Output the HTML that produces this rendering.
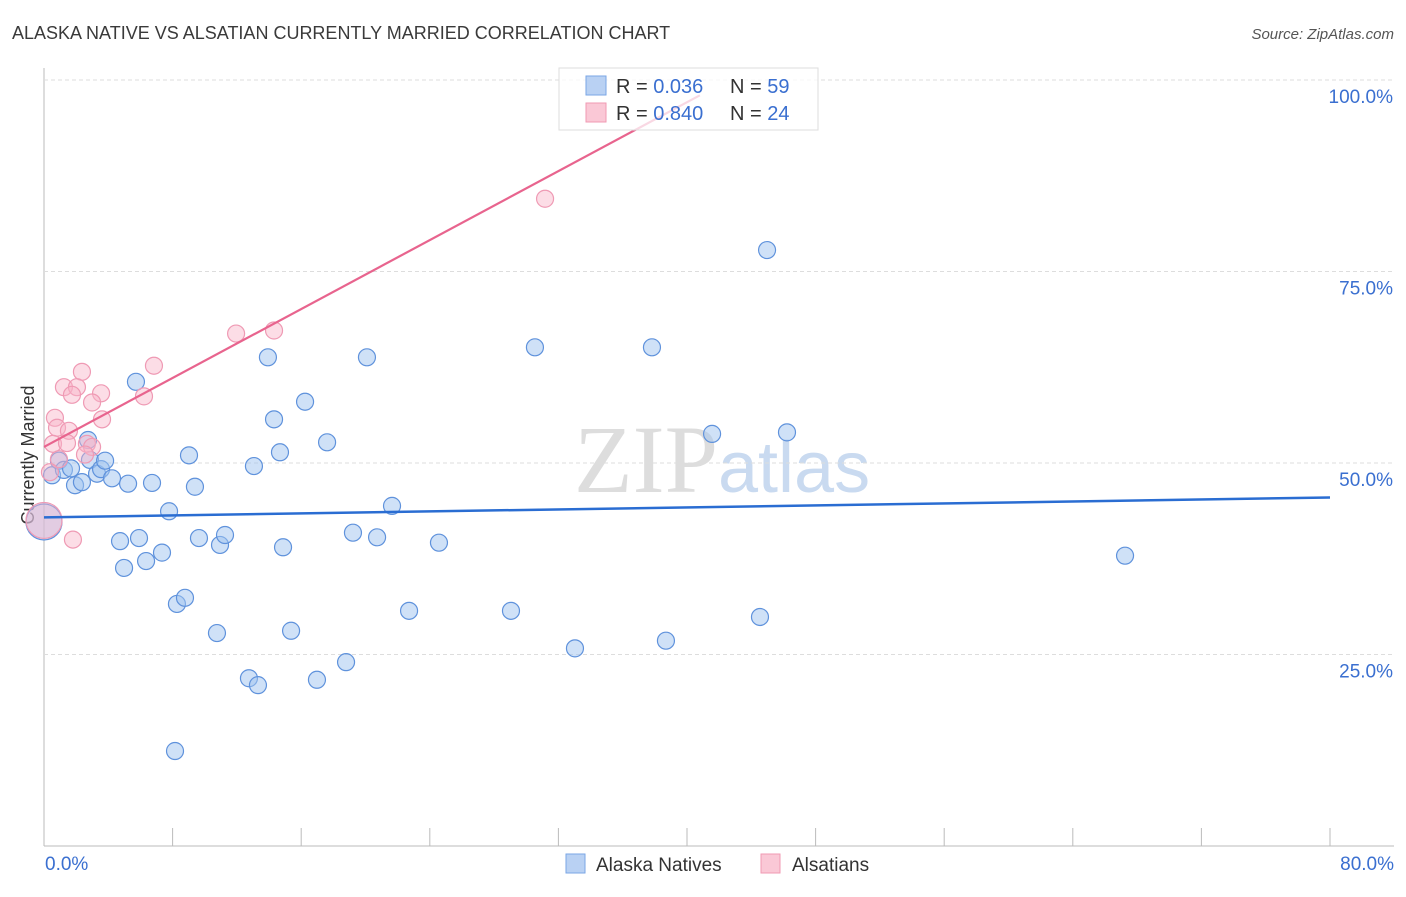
<!DOCTYPE html>
<html><head><meta charset="utf-8"><style>
body{margin:0;background:#fff;font-family:"Liberation Sans",sans-serif;}
#c{position:relative;width:1406px;height:892px;}
</style></head><body>
<div id="c">
<svg id="s" width="1406" height="892">
<text x="12" y="39" font-size="18" fill="#3a3a3a">ALASKA NATIVE VS ALSATIAN CURRENTLY MARRIED CORRELATION CHART</text>
<text x="1394" y="39" font-size="15" fill="#555" font-style="italic" text-anchor="end">Source: ZipAtlas.com</text>
<text x="718" y="492" font-size="96" fill="#ddd" text-anchor="end" font-family="Liberation Serif,serif">ZIP</text>
<text x="718" y="492" font-size="72" fill="#c9daf0">atlas</text>
<text transform="translate(34,455) rotate(-90)" font-size="18" fill="#333" text-anchor="middle">Currently Married</text>
<g id="grid"></g><g id="pts"></g><g id="lines"></g>
<g>
<rect x="559" y="68" width="259" height="62" fill="#fff" fill-opacity="0.75" stroke="#ddd"/>
<rect x="586" y="76" width="20" height="19" fill="#b9d1f3" stroke="#7aa6e6"/>
<rect x="586" y="103" width="20" height="19" fill="#fac8d6" stroke="#f09ab3"/>
<text x="616" y="93" font-size="20" fill="#333">R = <tspan fill="#3a6fd0">0.036</tspan></text>
<text x="730" y="93" font-size="20" fill="#333">N = <tspan fill="#3a6fd0">59</tspan></text>
<text x="616" y="120" font-size="20" fill="#333">R = <tspan fill="#3a6fd0">0.840</tspan></text>
<text x="730" y="120" font-size="20" fill="#333">N = <tspan fill="#3a6fd0">24</tspan></text>
</g>
<g>
<rect x="566" y="854" width="19" height="19" fill="#b9d1f3" stroke="#7aa6e6"/>
<text x="596" y="871" font-size="19" fill="#333">Alaska Natives</text>
<rect x="761" y="854" width="19" height="19" fill="#fac8d6" stroke="#f09ab3"/>
<text x="792" y="871" font-size="19" fill="#333">Alsatians</text>
</g>
</svg></div>
<script>
const blueX=[0.5,0.93,1.24,1.68,1.93,2.36,2.74,2.86,3.3,3.55,3.8,4.23,5.23,4.73,4.98,5.72,5.91,6.35,6.72,7.34,7.78,8.15,8.27,8.77,9.02,9.39,9.64,10.76,10.95,11.26,12.75,13.06,13.31,13.93,14.31,14.68,14.87,15.37,16.24,16.98,17.61,18.79,19.22,20.09,20.72,21.65,22.71,24.57,29.05,30.54,33.03,37.82,38.69,41.56,44.54,44.98,46.22,67.25,0];
const blueY=[48.4,50.3,49.1,49.3,47.1,47.5,53.0,50.4,48.6,49.2,50.3,48.0,47.3,39.8,36.3,60.6,40.2,37.2,47.4,38.3,43.7,12.4,31.6,32.4,51.0,46.9,40.2,27.8,39.3,40.6,21.9,49.6,21.0,63.8,55.7,51.4,39.0,28.1,58.0,21.7,52.7,24.0,40.9,63.8,40.3,44.4,30.7,39.6,30.7,65.1,25.8,65.1,26.8,53.8,29.9,77.8,54.0,37.9,42.3];
const pinkX=[2.36,1.24,2.05,1.74,3.55,2.99,0.68,3.61,0.81,1.55,0.56,1.43,2.67,2.99,0.93,1.80,6.84,6.22,11.95,14.31,31.17,0,0.37,2.55];
const pinkY=[61.9,59.9,59.9,58.9,59.1,57.9,55.9,55.7,54.6,54.2,52.5,52.6,52.5,52.1,50.5,40.0,62.7,58.7,66.9,67.3,84.5,42.5,48.8,51.1];
const tickY=[25,50,75,100];
const xTicks=[0,8,16,24,32,40,48,56,64,72,80];
const blueLine=[42.9,45.5], pinkLine=[52.1,98.0], pinkLineEnd=40.8;
const X=v=>44+v*16.075, Y=v=>846-v*7.66;
const NS='http://www.w3.org/2000/svg';
function mk(tag,attrs,parent){const e=document.createElementNS(NS,tag);for(const k in attrs)e.setAttribute(k,attrs[k]);document.getElementById(parent).appendChild(e);return e;}
mk('line',{x1:44,y1:68,x2:44,y2:846,stroke:'#bbb'},'grid');
mk('line',{x1:44,y1:846,x2:1394,y2:846,stroke:'#bbb'},'grid');
tickY.forEach(v=>{
 const l=mk('line',{x1:44,y1:Y(v),x2:1394,y2:Y(v),stroke:'#ddd','stroke-dasharray':'4,3'},'grid');
 
 
 const t=mk('text',{x:1393,y:Y(v)+23,'font-size':19,fill:'#3a6fd0','text-anchor':'end'},'grid');
 t.textContent=v.toFixed(1)+'%';
 
 
});
xTicks.forEach(v=>{
 const l=mk('line',{x1:X(v),y1:828,x2:X(v),y2:846,stroke:'#bbb'},'grid');
 
 
});
[[0,'0.0%','start',45],[80,'80.0%','end',1394]].forEach(a=>{
 const t=mk('text',{x:a[3],y:870,'font-size':19,fill:'#3a6fd0','text-anchor':a[2]},'grid');
 t.textContent=a[1];
 
 
});
blueX.forEach((x,i)=>{
 const big=i===blueX.length-1;
 const c=mk('circle',{cx:X(x),cy:Y(blueY[i]),r:big?18:8.5,fill:'rgba(160,195,240,0.5)',stroke:'#5f92dc','stroke-width':1.2},'pts');
 
 
});
pinkX.forEach((x,i)=>{
 const big=i===21;
 const c=mk('circle',{cx:X(x),cy:Y(pinkY[i]),r:big?18:8.5,fill:'rgba(248,180,200,0.45)',stroke:'#ef9ab4','stroke-width':1.2},'pts');
 
 
});
const bl=mk('line',{x1:X(0),y1:Y(blueLine[0]),x2:X(80),y2:Y(blueLine[1]),stroke:'#2a6dd2','stroke-width':2.5},'lines');


const pl=mk('line',{x1:X(0),y1:Y(pinkLine[0]),x2:X(pinkLineEnd),y2:Y(pinkLine[1]),stroke:'#e8648e','stroke-width':2.2},'lines');


</script>
</body></html>
